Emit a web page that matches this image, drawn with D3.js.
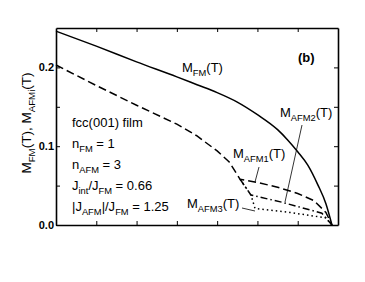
<!DOCTYPE html>
<html>
<head>
<meta charset="utf-8">
<title>M(T) fcc(001) film</title>
<style>
  body { margin: 0; background: #fff; }
  svg text { font-family: "Liberation Sans", Arial, sans-serif; fill: #000; }
</style>
<script src="https://d3js.org/d3.v7.min.js"></script>
</head>
<body>
<div id="chart"></div>
<script>
// temperature grid and magnetisations
var tFM   = [0, 1, 2, 3, 3.5, 4, 4.5, 5, 5.5, 5.75, 6, 6.25, 6.5, 6.7, 6.85];
var mFM   = [0.246, 0.227, 0.207, 0.188, 0.178, 0.168, 0.156, 0.140, 0.121, 0.108, 0.093, 0.076, 0.051, 0.027, 0];

var tAFM1 = [0, 1, 2, 3, 3.5, 4, 4.3, 4.57, 5, 5.5, 6, 6.4, 6.7, 6.85];
var mAFM1 = [0.203, 0.177, 0.152, 0.128, 0.113, 0.094, 0.080, 0.058, 0.054, 0.048, 0.040, 0.031, 0.016, 0];

var tAFM2 = [4.57, 4.84, 5.6, 6.6, 6.85];
var mAFM2 = [0.058, 0.038, 0.029, 0.015, 0];

var tAFM3 = [4.57, 4.84, 4.94, 5.8, 6.7, 6.85];
var mAFM3 = [0.058, 0.038, 0.021, 0.016, 0.009, 0];

var yTicks = [0, 0.1, 0.2];
var yMinor = [0.05, 0.15];
var xTicks = [1, 2, 3, 4, 5, 6];

var svgDims = {width: 365, height: 282};
var margin = {top: 28, right: 27, bottom: 57, left: 56};
var width = svgDims.width - margin.left - margin.right;
var height = svgDims.height - margin.top - margin.bottom;

var svg = d3.select("#chart").append("svg")
  .attr("width", svgDims.width)
  .attr("height", svgDims.height);

var g = svg.append("g")
  .attr("transform", "translate(" + margin.left + "," + margin.top + ")");

var x = d3.scaleLinear().domain([0, 7]).range([0, width]);
var y = d3.scaleLinear().domain([0, 0.25]).range([height, 0]);

function pairs(ts, ms) {
  var out = [];
  for (var i = 0; i < ts.length; i++) out.push({t: ts[i], m: ms[i]});
  return out;
}

// axes, ticks inward
var tl = 4;
g.append("g").attr("transform", "translate(0," + height + ")")
  .call(d3.axisBottom(x).tickValues(xTicks).tickSizeInner(-tl).tickSizeOuter(0).tickFormat(""));
g.append("g")
  .call(d3.axisTop(x).tickValues(xTicks).tickSizeInner(-tl).tickSizeOuter(0).tickFormat(""));
g.append("g")
  .call(d3.axisLeft(y).tickValues(yTicks.concat(yMinor)).tickSizeInner(-tl).tickSizeOuter(0)
    .tickFormat(function(d) { return yTicks.indexOf(d) >= 0 ? d3.format(".1f")(d) : ""; }));
g.append("g").attr("transform", "translate(" + width + ",0)")
  .call(d3.axisRight(y).tickValues(yTicks.concat(yMinor)).tickSizeInner(-tl).tickSizeOuter(0).tickFormat(""));

g.selectAll(".domain").attr("stroke", "#000").attr("stroke-width", 1.6);
g.selectAll(".tick line").attr("stroke", "#000").attr("stroke-width", 1);
g.selectAll(".tick text")
  .attr("font-family", "Liberation Sans, Arial, sans-serif")
  .attr("font-size", 11).attr("font-weight", "bold").attr("fill", "#000")
  .attr("dx", "1px");

var line = d3.line()
  .x(function(d) { return x(d.t); })
  .y(function(d) { return y(d.m); });
var smooth = d3.line()
  .curve(d3.curveMonotoneX)
  .x(function(d) { return x(d.t); })
  .y(function(d) { return y(d.m); });

var curves = [
  {d: pairs(tFM, mFM), dash: null, gen: smooth},
  {d: pairs(tAFM1, mAFM1), dash: "8,4", gen: line},
  {d: pairs(tAFM2, mAFM2), dash: "7,3,1.5,3", gen: line},
  {d: pairs(tAFM3, mAFM3), dash: "1.5,3", gen: line}
];
curves.forEach(function(c) {
  g.append("path").datum(c.d)
    .attr("fill", "none").attr("stroke", "#000")
    .attr("stroke-width", 1.5)
    .attr("stroke-dasharray", c.dash)
    .attr("d", c.gen);
});

// text with subscripts
function label(parent, xPos, yPos, parts, size) {
  var t = parent.append("text").attr("x", xPos).attr("y", yPos).attr("font-size", size);
  var shift = 0;
  parts.forEach(function(p) {
    var sub = p[1];
    var want = sub ? 0.3 * size : 0;
    t.append("tspan").text(p[0])
      .attr("font-size", sub ? size * 0.72 : size)
      .attr("dy", want - shift);
    shift = want;
  });
  return t;
}

label(svg, 182, 72, [["M", 0], ["FM", 1], ["(T)", 0]], 13);
label(svg, 280, 117, [["M", 0], ["AFM2", 1], ["(T)", 0]], 13);
label(svg, 233, 158, [["M", 0], ["AFM1", 1], ["(T)", 0]], 13);
label(svg, 187, 208, [["M", 0], ["AFM3", 1], ["(T)", 0]], 13);

svg.append("text").attr("x", 298).attr("y", 62)
  .attr("font-size", 13).attr("font-weight", "bold").text("(b)");

// leader lines
var leaders = [[302, 125, 285, 202], [259, 167, 255, 182], [242, 208, 255, 211]];
leaders.forEach(function(l) {
  svg.append("line").attr("x1", l[0]).attr("y1", l[1]).attr("x2", l[2]).attr("y2", l[3])
    .attr("stroke", "#000").attr("stroke-width", 0.8);
});

// parameters
label(svg, 72, 127, [["fcc(001) film", 0]], 13);
label(svg, 72, 148, [["n", 0], ["FM", 1], [" = 1", 0]], 13);
label(svg, 72, 169, [["n", 0], ["AFM", 1], [" = 3", 0]], 13);
label(svg, 72, 190, [["J", 0], ["int", 1], ["/J", 0], ["FM", 1], [" = 0.66", 0]], 13);
label(svg, 72, 211, [["|J", 0], ["AFM", 1], ["|/J", 0], ["FM", 1], [" = 1.25", 0]], 13);

// y axis title
var yl = svg.append("g").attr("transform", "translate(31,123) rotate(-90)");
label(yl, 0, 0, [["M", 0], ["FM", 1], ["(T),  M", 0], ["AFMi", 1], ["(T)", 0]], 13.5)
  .attr("text-anchor", "middle");
</script>
</body>
</html>
